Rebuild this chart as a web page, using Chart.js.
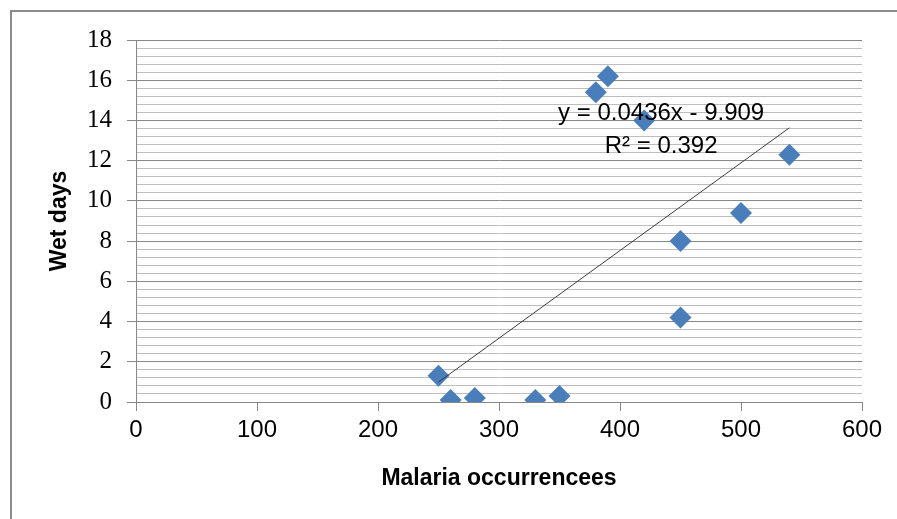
<!DOCTYPE html>
<html>
<head>
<meta charset="utf-8">
<script src="https://cdn.jsdelivr.net/npm/chart.js@4/dist/chart.umd.min.js"></script>
<style>
  html, body { margin: 0; padding: 0; background: #fff; }
  #cadre { position: relative; width: 897px; height: 519px; }
</style>
</head>
<body>
<div id="cadre"><canvas id="chartMalaria" width="897" height="519"></canvas></div>
<script>
// ── DONNÉES ───────────────────────────────────────
const malaria  = [250, 260, 280, 330, 350, 380, 390, 420, 450, 450, 500, 540];
const wetDays  = [1.3, 0.1, 0.2, 0.1, 0.3, 15.4, 16.2, 14.0, 8.0, 4.2, 9.4, 12.3];
const xTicks   = [0, 100, 200, 300, 400, 500, 600];
const yTicks   = [0, 2, 4, 6, 8, 10, 12, 14, 16, 18];
const equation = ['y = 0.0436x - 9.909', 'R² = 0.392'];
const pente    = 0.0436;
const origine  = -9.909;

// ── COULEURS ──────────────────────────────────────
const COULEURS = {
  point:   '#4a7ebb',
  tendance:'#3c3c3c',
  major:   '#878787',
  minor:   '#bdbdbd',
  cadre:   '#8c8c8c',
  texte:   '#000000'
};

const points = malaria.map(function(x, i) { return { x: x, y: wetDays[i] }; });

// droite de tendance calculée depuis l'équation affichée
const xMin = Math.min.apply(null, malaria);
const xMax = Math.max.apply(null, malaria);
const tendance = [xMin, xMax].map(function(x) { return { x: x, y: pente * x + origine }; });

function estMajeur(v) {
  return yTicks.some(function(t) { return Math.abs(t - v) < 1e-6; });
}

// ── PLUGINS ───────────────────────────────────────
const cadrePlugin = {
  id: 'cadre',
  beforeDraw(chart) {
    const ctx = chart.ctx;
    ctx.save();
    ctx.fillStyle = '#fff';
    ctx.fillRect(0, 0, chart.width, chart.height);
    ctx.strokeStyle = COULEURS.cadre;
    ctx.lineWidth = 2;
    ctx.strokeRect(11, 11, chart.width + 20, chart.height + 20);
    ctx.restore();
  }
};

// équation + R² par-dessus les points
const equationPlugin = {
  id: 'equation',
  afterDatasetsDraw(chart) {
    const ctx = chart.ctx;
    const sx = chart.scales.x, sy = chart.scales.y;
    const cx = sx.getPixelForValue(434);
    ctx.save();
    ctx.fillStyle = COULEURS.texte;
    ctx.font = '24px "Liberation Sans", Arial, sans-serif';
    ctx.textAlign = 'center';
    ctx.textBaseline = 'middle';
    ctx.fillText(equation[0], cx, sy.getPixelForValue(14.37));
    ctx.fillText(equation[1], cx, sy.getPixelForValue(12.73));
    ctx.restore();
  }
};

// ── GRAPHIQUE ─────────────────────────────────────
new Chart(document.getElementById('chartMalaria'), {
  type: 'scatter',
  data: {
    datasets: [
      {
        label: 'Tendance',
        data: tendance,
        showLine: true,
        borderColor: COULEURS.tendance,
        borderWidth: 1,
        pointRadius: 0,
        fill: false
      },
      {
        label: 'Wet days',
        data: points,
        pointStyle: 'rectRot',
        pointRadius: 11,
        pointBackgroundColor: COULEURS.point,
        pointBorderColor: COULEURS.point,
        pointBorderWidth: 0
      }
    ]
  },
  options: {
    responsive: false,
    animation: false,
    devicePixelRatio: 1,
    layout: { padding: { left: 0, right: 35, top: 40, bottom: 0 } },
    plugins: { legend: { display: false }, tooltip: { enabled: false } },
    scales: {
      x: {
        type: 'linear',
        min: xTicks[0],
        max: xTicks[xTicks.length - 1],
        afterBuildTicks: function(s) { s.ticks = xTicks.map(function(v) { return { value: v }; }); },
        afterFit: function(s) { s.height = 519 - 402; },
        border: { color: COULEURS.major, width: 1 },
        grid: { drawOnChartArea: false, tickLength: 9, color: COULEURS.major },
        ticks: {
          color: COULEURS.texte,
          padding: 5,
          font: { family: '"Liberation Sans", Arial, sans-serif', size: 24 }
        },
        title: {
          display: true,
          text: 'Malaria occurrencees',
          color: COULEURS.texte,
          font: { family: '"Liberation Sans", Arial, sans-serif', size: 23, weight: 'bold' },
          padding: { top: 0, bottom: 27 }
        }
      },
      y: {
        type: 'linear',
        min: 0,
        max: yTicks[yTicks.length - 1],
        ticks: {
          stepSize: 0.4,
          autoSkip: false,
          color: COULEURS.texte,
          padding: 15,
          font: { family: '"Liberation Serif", "Times New Roman", serif', size: 25 },
          callback: function(v) { return estMajeur(v) ? String(Math.round(v)) : ''; }
        },
        afterFit: function(s) { s.width = 136; },
        border: { color: COULEURS.major, width: 1 },
        grid: {
          tickLength: 9,
          color: function(c) { return estMajeur(c.tick.value) ? COULEURS.major : COULEURS.minor; },
          tickColor: function(c) { return estMajeur(c.tick.value) ? COULEURS.major : 'rgba(0,0,0,0)'; }
        },
        title: {
          display: true,
          text: 'Wet days',
          color: COULEURS.texte,
          font: { family: '"Liberation Sans", Arial, sans-serif', size: 23, weight: 'bold' },
          padding: { top: 46, bottom: 0 }
        }
      }
    }
  },
  plugins: [cadrePlugin, equationPlugin]
});
</script>
</body>
</html>
